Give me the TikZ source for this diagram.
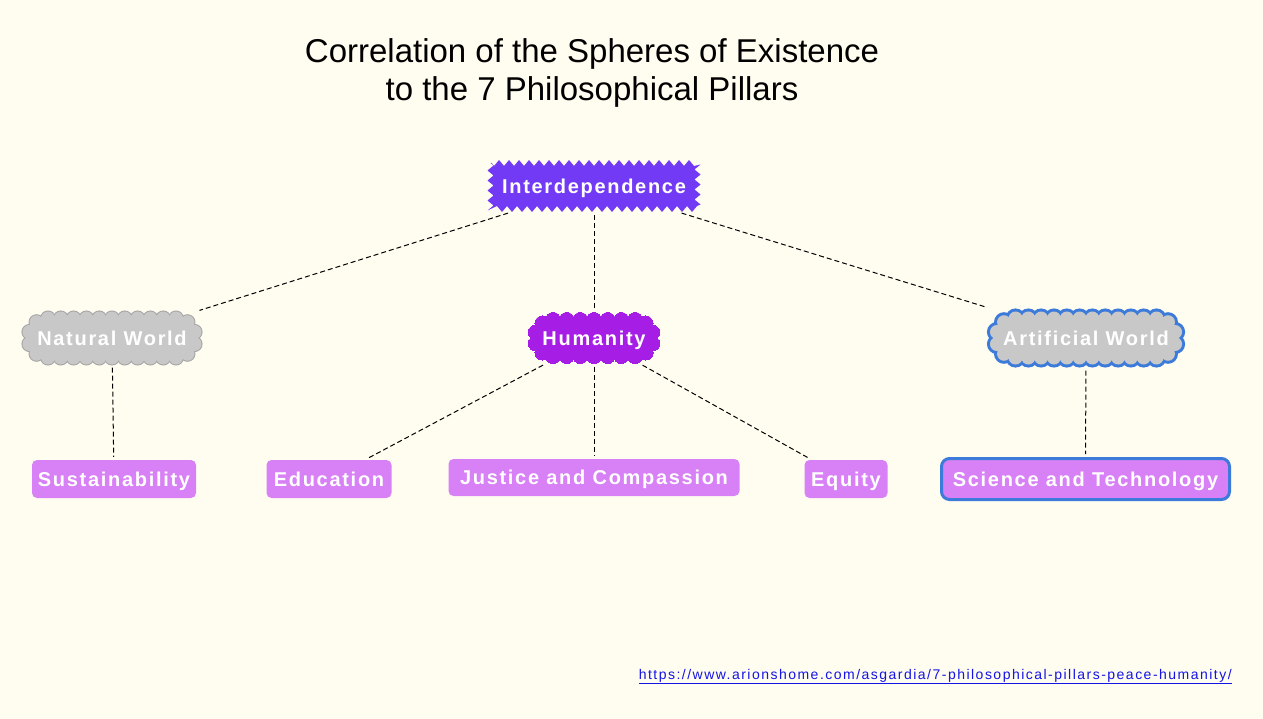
\documentclass[tikz,border=0pt]{standalone}
\usepackage{fontspec}
\setmainfont{Liberation Sans}
\newfontfamily\lblfont[LetterSpace=8.5]{Liberation Sans}
\newfontfamily\urlfont[LetterSpace=10.6]{Liberation Sans}
\usetikzlibrary{decorations.pathmorphing}
\definecolor{bg}{RGB}{255,253,240}
\definecolor{interc}{RGB}{115,58,245}
\definecolor{humc}{RGB}{166,30,230}
\definecolor{grayc}{RGB}{200,200,200}
\definecolor{grayb}{RGB}{165,165,165}
\definecolor{pinkc}{RGB}{216,128,245}
\definecolor{blueb}{RGB}{60,123,217}
\definecolor{urlc}{RGB}{20,20,230}
\tikzset{
 lbl/.style={font=\lblfont\bfseries\fontsize{20}{24}\selectfont, text=white, inner sep=0pt, align=center, text height=14.5pt, text depth=0pt},
 pillar/.style={lbl, fill=pinkc, rounded corners=5pt, minimum height=38pt},
 cloudnode/.style={lbl, draw=none, fill=none},
 zigfill/.style={decorate, decoration={zigzag, segment length=10pt, amplitude=3pt}},
 link/.style={draw=black, line width=1pt, dash pattern=on 5pt off 3pt, shorten <=3pt, shorten >=3pt},
}
% bumpy stadium: #1 cx, #2 cy, #3 L (half straight length), #4 R (half height), #5 r (bump radius),
% #6 n (intervals on straight part), #7 m (intervals on each end), #8 fill, #9 border style
\newcommand\bumpyshape[9]{%
  \begin{scope}[shift={(#1,#2)}]
    \foreach \i in {0,...,#6}{%
      \path[#9, fill=#8] ({-#3+\i*2*#3/#6},{-#4}) circle (#5) ({-#3+\i*2*#3/#6},{#4}) circle (#5);}
    \foreach \k in {1,...,\numexpr#7-1\relax}{%
      \path[#9, fill=#8] ({#3+#4*cos(90-\k*180/#7)},{#4*sin(90-\k*180/#7)}) circle (#5)
                         ({-#3-#4*cos(90-\k*180/#7)},{#4*sin(90-\k*180/#7)}) circle (#5);}
    \foreach \i in {0,...,#6}{%
      \fill[#8] ({-#3+\i*2*#3/#6},{-#4}) circle (#5) ({-#3+\i*2*#3/#6},{#4}) circle (#5);}
    \foreach \k in {1,...,\numexpr#7-1\relax}{%
      \fill[#8] ({#3+#4*cos(90-\k*180/#7)},{#4*sin(90-\k*180/#7)}) circle (#5)
                ({-#3-#4*cos(90-\k*180/#7)},{#4*sin(90-\k*180/#7)}) circle (#5);}
    \fill[#8, rounded corners={#4*1pt}] ({-#3-#4},{-#4}) rectangle ({#3+#4},{#4});
  \end{scope}}
\begin{document}
\begin{tikzpicture}[x=1pt,y=-1pt]
\useasboundingbox (0,0) rectangle (1263,719);
\fill[bg] (0,0) rectangle (1263,719);
\node[font=\fontsize{33}{38}\selectfont, align=center] (title) at (592,73)
  {Correlation of the Spheres of Existence\\to the 7 Philosophical Pillars};

\fill[interc, zigfill] (490.5,163) rectangle (697.5,209);
\node[cloudnode, minimum width=213pt, minimum height=52pt] (inter) at (594,186) {Interdependence};

\bumpyshape{112}{338}{64}{19.5}{7}{10}{5}{grayc}{draw=grayb, line width=2pt}
\node[cloudnode, minimum width=181pt, minimum height=53pt] (nat) at (112,338) {Natural World};

\bumpyshape{594}{338}{41}{18}{7.5}{6}{5}{humc}{draw=humc, line width=0pt}
\node[cloudnode, minimum width=133pt, minimum height=51pt] (hum) at (594,338) {Humanity};

\bumpyshape{1086}{338}{70.5}{19.5}{7}{11}{5}{grayc}{draw=blueb, line width=6pt}
\node[cloudnode, minimum width=200pt, minimum height=59pt] (art) at (1086,338) {Artificial World};

\node[pillar, minimum width=164pt] (sus) at (114,479) {Sustainability};
\node[pillar, minimum width=125pt] (edu) at (329,479) {Education};
\node[pillar, minimum width=291pt, minimum height=37pt] (jus) at (594,477.5) {Justice and Compassion};
\node[pillar, minimum width=83pt] (equ) at (846,479) {Equity};
\node[pillar, draw=blueb, line width=3pt, rounded corners=8pt, minimum width=288pt, minimum height=41pt] (sci) at (1085.5,479) {Science and Technology};

\draw[link] (inter) -- (nat);
\draw[link] (inter) -- (hum);
\draw[link] (inter) -- (art);
\draw[link] (nat) -- (sus);
\draw[link] (hum) -- (edu);
\draw[link] (hum) -- (jus);
\draw[link] (hum) -- (equ);
\draw[link] (art) -- (sci);

\node[font=\urlfont\fontsize{14}{16}\selectfont, text=urlc, anchor=base east, inner sep=0pt] (url) at (1232,679)
  {\underline{https://www.arionshome.com/asgardia/7-philosophical-pillars-peace-humanity/}};
\end{tikzpicture}
\end{document}
